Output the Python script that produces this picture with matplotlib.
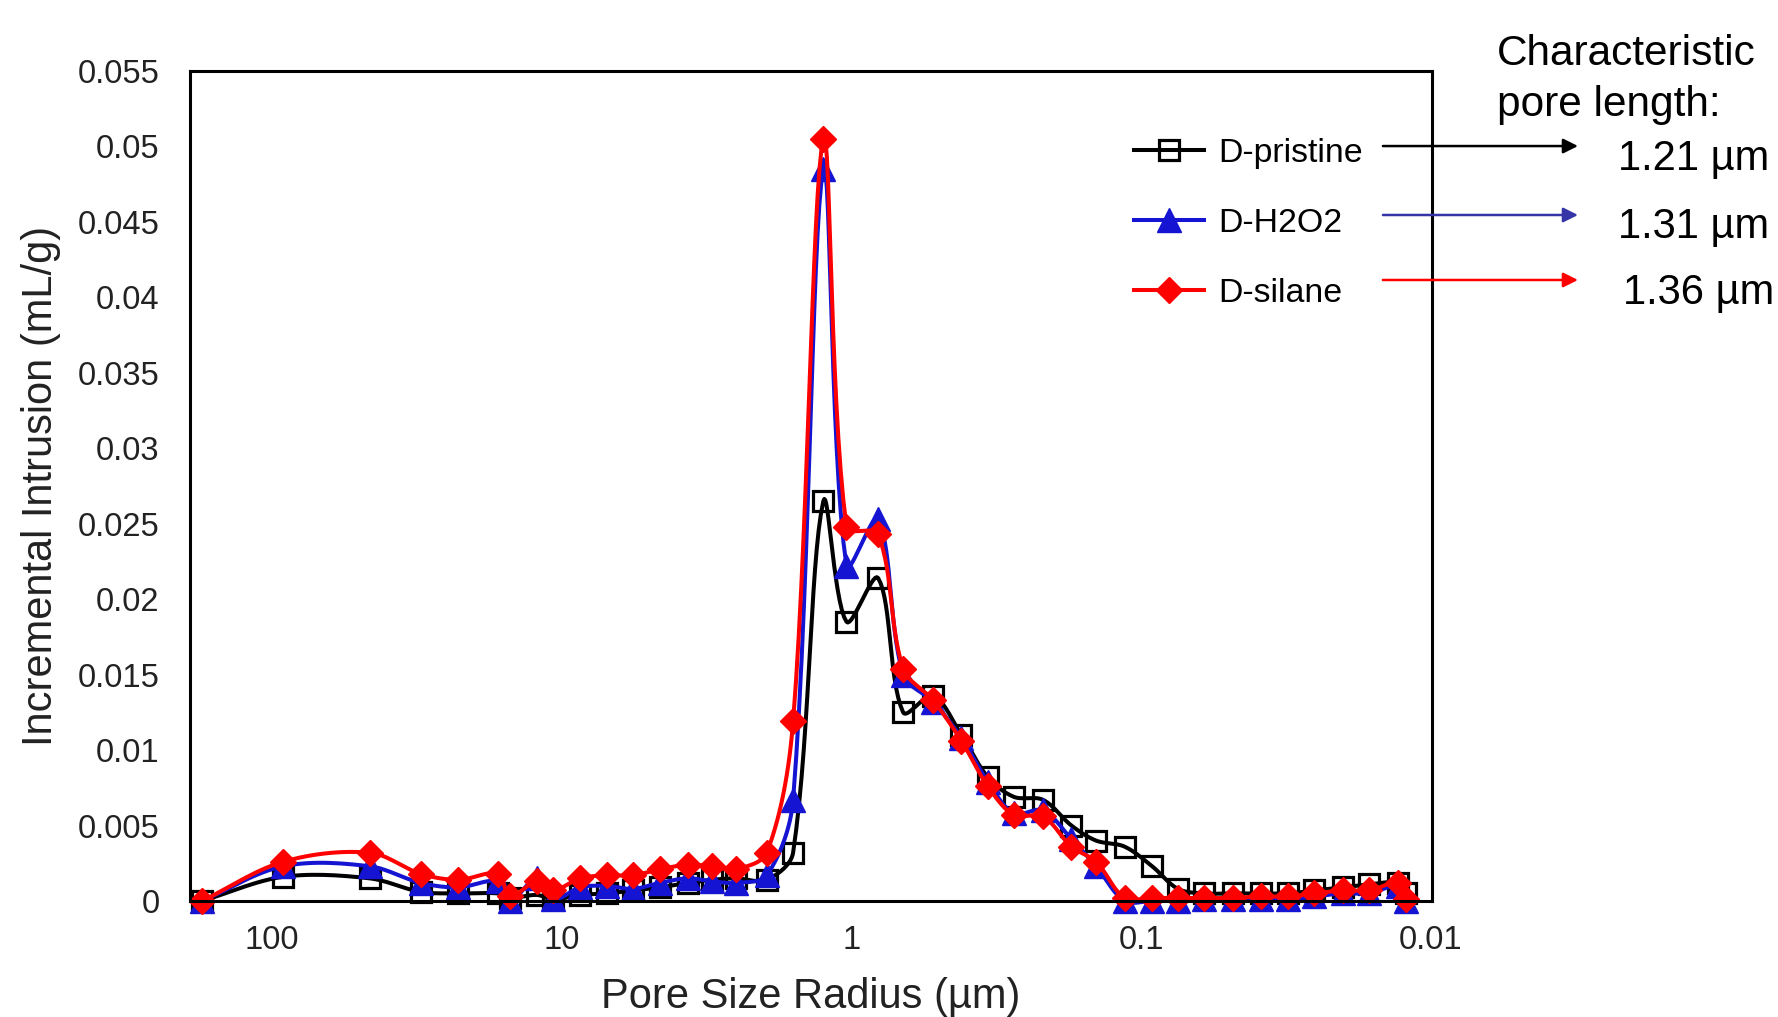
import matplotlib
matplotlib.use("Agg")
import matplotlib.pyplot as plt
import numpy as np
from matplotlib.lines import Line2D
from matplotlib.ticker import FixedLocator, FixedFormatter, NullLocator

plt.rcParams['font.family'] = ['Liberation Sans', 'DejaVu Sans']

# Pore size radius (um)
radius = [174.4, 91.5, 46.1, 30.7, 22.8, 16.6, 15.1, 12.2, 10.7, 8.65,
          6.98, 5.68, 4.58, 3.67, 3.03, 2.51, 1.96, 1.59, 1.25, 1.04,
          0.809, 0.663, 0.523, 0.417, 0.338, 0.275, 0.218, 0.174, 0.143, 0.114,
          0.0916, 0.0746, 0.0608, 0.0482, 0.0385, 0.0311, 0.0252, 0.0201, 0.0163, 0.0130,
          0.0122]

pristine = [0, 0.0016, 0.0015, 0.0006, 0.0005, 0.0005, 0.0002, 0.0004, 0.0001, 0.0004,
            0.0005, 0.0007, 0.0009, 0.0012, 0.0014, 0.0015, 0.0014, 0.0032, 0.0265, 0.0185,
            0.0214, 0.0125, 0.0136, 0.0110, 0.0082, 0.0069, 0.0067, 0.0050, 0.0040, 0.0036,
            0.0023, 0.0008, 0.0005, 0.0005, 0.0005, 0.0005, 0.0007, 0.0009, 0.0011, 0.0012,
            0.0005]

h2o2 = [0, 0.0023, 0.0023, 0.0012, 0.0009, 0.0013, 0.0000, 0.0015, 0.0001, 0.0009,
        0.0010, 0.0008, 0.0012, 0.0015, 0.0013, 0.0012, 0.0017, 0.0067, 0.0485, 0.0222,
        0.0253, 0.0150, 0.0132, 0.0108, 0.0079, 0.0058, 0.0060, 0.0041, 0.0023, 0.0,
        0.0, 0.0, 0.0001, 0.0001, 0.0001, 0.0001, 0.0003, 0.0005, 0.0005, 0.0010,
        0.0]

silane = [0, 0.0026, 0.0032, 0.0018, 0.0014, 0.0018, 0.0003, 0.0013, 0.0007, 0.0015,
          0.0017, 0.0017, 0.0021, 0.0024, 0.0023, 0.0021, 0.0032, 0.0119, 0.0505, 0.0248,
          0.0243, 0.0154, 0.0133, 0.0106, 0.0076, 0.0057, 0.0056, 0.0036, 0.0026, 0.0002,
          0.0002, 0.0002, 0.0002, 0.0002, 0.0003, 0.0003, 0.0005, 0.0007, 0.0007, 0.0012,
          0.0001]

names = ["D-pristine", "D-H2O2", "D-silane"]
pore_lengths = ["1.21 \u00b5m", "1.31 \u00b5m", "1.36 \u00b5m"]

x_ticks = [100, 10, 1, 0.1, 0.01]
x_labels = ["100", "10", "1", "0.1", "0.01"]
y_ticks = np.arange(0, 0.0551, 0.005)
y_labels = ["0", "0.005", "0.01", "0.015", "0.02", "0.025", "0.03",
            "0.035", "0.04", "0.045", "0.05", "0.055"]

BLUE = "#1414d2"
RED = "#ff0000"


def smooth_line(ax, x, y, n=16):
    # excel-like smoothed line, done in screen space,
    # tangents weighted by neighbouring segment lengths
    pts = ax.transData.transform(np.column_stack([x, y]))
    p = np.vstack([pts[0], pts, pts[-1]])
    out = []
    t = np.linspace(0, 1, n)[:, None]
    for i in range(1, len(p) - 2):
        p0, p1, p2, p3 = p[i - 1], p[i], p[i + 1], p[i + 2]
        l01 = np.hypot(*(p1 - p0))
        l12 = np.hypot(*(p2 - p1))
        l23 = np.hypot(*(p3 - p2))
        w1 = l12 / (l01 + l12) if l01 + l12 > 0 else 0
        w2 = l12 / (l12 + l23) if l12 + l23 > 0 else 0
        c1 = p1 + (p2 - p0) * w1 / 3.0
        c2 = p2 - (p3 - p1) * w2 / 3.0
        seg = ((1 - t) ** 3) * p1 + 3 * ((1 - t) ** 2) * t * c1 + 3 * (1 - t) * t ** 2 * c2 + t ** 3 * p2
        out.append(seg)
    out = np.vstack(out)
    data = ax.transData.inverted().transform(out)
    return data[:, 0], data[:, 1]


fig = plt.figure(figsize=(17.78, 10.17), dpi=100)
ax = fig.add_axes([0.1069, 0.1141, 0.6985, 0.8161])
ax.set_xscale('log')
ax.set_xlim(192, 0.0099)
ax.set_ylim(0, 0.055)

styles = [
    (pristine, "black", dict(marker='s', markersize=15, markerfacecolor='none',
                             markeredgecolor='black', markeredgewidth=2.3)),
    (h2o2, BLUE, dict(marker='^', markersize=17, markerfacecolor=BLUE, markeredgecolor=BLUE)),
    (silane, RED, dict(marker='D', markersize=13.5, markerfacecolor=RED, markeredgecolor=RED)),
]

handles = []
for (vals, col, mk), name in zip(styles, names):
    sx, sy = smooth_line(ax, radius, vals)
    ax.plot(sx, sy, color=col, lw=2.9, clip_on=False)
    ax.plot(radius, vals, linestyle='none', clip_on=False, **mk)
    handles.append(Line2D([], [], color=col, lw=2.9, **mk))

ax.xaxis.set_major_locator(FixedLocator(x_ticks))
ax.xaxis.set_major_formatter(FixedFormatter(x_labels))
ax.xaxis.set_minor_locator(NullLocator())
ax.yaxis.set_major_locator(FixedLocator(y_ticks))
ax.yaxis.set_major_formatter(FixedFormatter(y_labels))
ax.tick_params(axis='both', length=0, labelsize=23.5, colors='#222222')
ax.tick_params(axis='y', pad=22)
ax.tick_params(axis='x', pad=17)
for s in ax.spines.values():
    s.set_linewidth(2.2)

ax.set_xlabel("Pore Size Radius (\u00b5m)", fontsize=30, color='#222222')
ax.set_ylabel("Incremental Intrusion (mL/g)", fontsize=30, color='#222222')
ax.xaxis.set_label_coords(0.5, -0.092)
ax.yaxis.set_label_coords(-0.104, 0.5)

ax.legend(handles, names, loc='upper left', bbox_to_anchor=(0.6378, 0.8643),
          bbox_transform=fig.transFigure, frameon=False, fontsize=24.4,
          handlelength=2.06, handletextpad=0.44, labelspacing=1.15,
          borderpad=0, borderaxespad=0, numpoints=1)

# characteristic pore length notes
fig.text(0.842, 0.9365, "Characteristic", fontsize=30.5, va='baseline')
fig.text(0.842, 0.8862, "pore length:", fontsize=30.5, va='baseline')
arrow_cols = ["black", "#3535a8", RED]
arrow_y = [0.8564, 0.7886, 0.7247]
text_y = [0.8328, 0.766, 0.701]
text_x = [0.910, 0.910, 0.913]
for c, ay, ty, tx, lab in zip(arrow_cols, arrow_y, text_y, text_x, pore_lengths):
    fig.add_artist(plt.Annotation("", xy=(0.8875, ay), xytext=(0.7778, ay),
                                  xycoords='figure fraction', textcoords='figure fraction',
                                  arrowprops=dict(arrowstyle='-|>', color=c, lw=1.8,
                                                  mutation_scale=22, shrinkA=0, shrinkB=0)))
    fig.text(tx, ty, lab, fontsize=30, va='baseline')

fig.savefig("out.png", dpi=100)
